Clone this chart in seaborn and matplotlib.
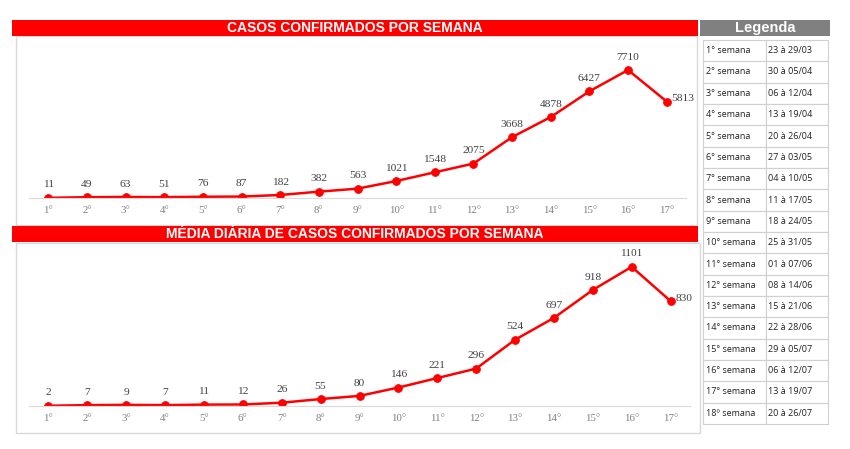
import pandas as pd
import matplotlib
matplotlib.use('Agg')
import matplotlib.pyplot as plt
from matplotlib.patches import Rectangle
import seaborn as sns

semanas = [f'{i}°' for i in range(1, 18)]
casos = [11, 49, 63, 51, 76, 87, 182, 382, 563, 1021, 1548, 2075, 3668, 4878, 6427, 7710, 5813]
media = [2, 7, 9, 7, 11, 12, 26, 55, 80, 146, 221, 296, 524, 697, 918, 1101, 830]

legenda_semana = [f'{i}° semana' for i in range(1, 18)] + ['18º semana']
legenda_datas = ['23 à 29/03', '30 à 05/04', '06 à 12/04', '13 à 19/04', '20 à 26/04',
                 '27 à 03/05', '04 à 10/05', '11 à 17/05', '18 à 24/05', '25 à 31/05',
                 '01 à 07/06', '08 à 14/06', '15 à 21/06', '22 à 28/06', '29 à 05/07',
                 '06 à 12/07', '13 à 19/07', '20 à 26/07']

W, H = 850, 449
VERMELHO = '#ff0000'
SERIF = 'Liberation Serif'


def box(x0, y0, x1, y1):
    return [x0 / W, 1 - y1 / H, (x1 - x0) / W, (y1 - y0) / H]


def faixa(fig, x0, y0, x1, y1, cor, texto, size=10):
    b = box(x0, y0, x1, y1)
    fig.add_artist(Rectangle((b[0], b[1]), b[2], b[3], transform=fig.transFigure,
                             facecolor=cor, edgecolor='none', zorder=5))
    fig.text(b[0] + b[2] / 2, b[1] + b[3] / 2, texto, color='white', fontsize=size,
             fontweight='bold', ha='center', va='center', family='Liberation Sans',
             zorder=6)


def painel(fig, x0, y0, x1, y1):
    b = box(x0, y0, x1, y1)
    fig.add_artist(Rectangle((b[0], b[1]), b[2], b[3], transform=fig.transFigure,
                             facecolor='white', edgecolor='#d9d9d9', linewidth=1,
                             zorder=-5))


def grafico(ax, valores, ymax, ultimo_dx):
    df = pd.DataFrame({'x': range(len(valores)), 'v': valores})
    sns.lineplot(data=df, x='x', y='v', ax=ax, color=VERMELHO, linewidth=1.8,
                 marker='o', markersize=5.5, markeredgecolor=VERMELHO)
    ax.set_xlim(-0.5, len(valores) - 0.5)
    ax.set_ylim(0, ymax)
    ax.set_xticks(range(len(valores)))
    ax.set_xticklabels(semanas, family=SERIF, fontsize=7.8, color='#7f7f7f')
    ax.tick_params(axis='x', length=0, pad=6)
    ax.set_yticks([])
    ax.set_xlabel('')
    ax.set_ylabel('')
    for s in ['top', 'left', 'right']:
        ax.spines[s].set_visible(False)
    ax.spines['bottom'].set_color('#d9d9d9')
    ax.set_facecolor('none')
    for i, v in enumerate(valores):
        if i == len(valores) - 1:
            ax.annotate(str(v), (i, v), xytext=(ultimo_dx, 2), textcoords='offset points',
                        ha='left', va='center', fontsize=8.2, color='#404040',
                        family=SERIF)
        else:
            ax.annotate(str(v), (i, v), xytext=(0, 6), textcoords='offset points',
                        ha='center', va='bottom', fontsize=8.2, color='#404040',
                        family=SERIF)


sns.set_style('white')
fig = plt.figure(figsize=(W / 100, H / 100), dpi=100)

painel(fig, 16, 36, 697, 225)
painel(fig, 16, 243, 700, 433)
faixa(fig, 12, 20, 698, 36, VERMELHO, 'CASOS CONFIRMADOS POR SEMANA')
faixa(fig, 12, 226, 698, 242, VERMELHO, 'MÉDIA DIÁRIA DE CASOS CONFIRMADOS POR SEMANA')
faixa(fig, 700, 20, 830, 36, '#808080', 'Legenda', size=10.5)

ax1 = fig.add_axes(box(29, 48.6, 686, 198))
grafico(ax1, casos, 9000, 3)
ax2 = fig.add_axes(box(29, 254.3, 690, 406))
grafico(ax2, media, 1200, 3.5)

axt = fig.add_axes(box(703, 40, 828, 424))
axt.axis('off')
tab = axt.table(cellText=list(zip(legenda_semana, legenda_datas)), bbox=[0, 0, 1, 1],
                cellLoc='left')
tab.auto_set_font_size(False)
for (r, c), cell in tab.get_celld().items():
    cell.set_edgecolor('#d0d0d0')
    cell.set_linewidth(0.8)
    cell.PAD = 0.04
    cell.get_text().set_fontsize(6.5)
    cell.get_text().set_color('#202020')
    cell.get_text().set_family('Open Sans')

fig.savefig('out.png', dpi=100)
